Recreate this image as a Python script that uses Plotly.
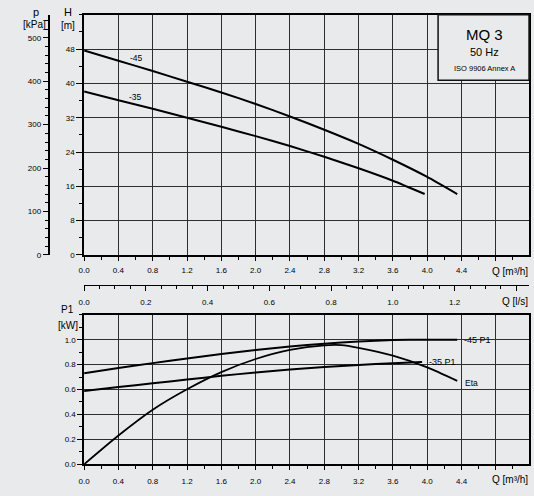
import plotly.graph_objects as go

# ---------------- data ----------------
q45 = [0.0, 0.4, 0.8, 1.2, 1.6, 2.0, 2.4, 2.8, 3.2, 3.6, 4.0, 4.35]
h45 = [47.7, 45.3, 42.9, 40.4, 37.9, 35.2, 32.3, 29.2, 25.9, 22.2, 18.2, 14.2]

q35 = [0.0, 0.4, 0.8, 1.2, 1.6, 2.0, 2.4, 2.8, 3.2, 3.6, 3.97]
h35 = [38.1, 36.1, 34.1, 32.0, 29.9, 27.7, 25.4, 22.9, 20.2, 17.3, 14.2]

qp45 = [0.0, 0.4, 0.8, 1.2, 1.6, 2.0, 2.4, 2.8, 3.2, 3.6, 4.0, 4.35]
p45 = [0.73, 0.772, 0.812, 0.85, 0.885, 0.917, 0.945, 0.968, 0.986, 0.997, 1.0, 1.0]

qp35 = [0.0, 0.4, 0.8, 1.2, 1.6, 2.0, 2.4, 2.8, 3.2, 3.6, 3.94]
p35 = [0.589, 0.62, 0.65, 0.68, 0.71, 0.737, 0.76, 0.78, 0.797, 0.811, 0.821]

qeta = [0.0, 0.4, 0.8, 1.2, 1.6, 2.0, 2.4, 2.8, 3.0, 3.2, 3.6, 4.0, 4.35]
eta = [0.0, 0.231, 0.438, 0.602, 0.74, 0.845, 0.918, 0.955, 0.957, 0.935, 0.872, 0.778, 0.67]

q_ticks = [0.0, 0.4, 0.8, 1.2, 1.6, 2.0, 2.4, 2.8, 3.2, 3.6, 4.0, 4.4, 4.8]
q_labels = ["0.0", "0.4", "0.8", "1.2", "1.6", "2.0", "2.4", "2.8", "3.2", "3.6", "4.0", "4.4", ""]
ls_ticks = [0.0, 0.2, 0.4, 0.6, 0.8, 1.0, 1.2, 1.4]
ls_labels = ["0.0", "0.2", "0.4", "0.6", "0.8", "1.0", "1.2", ""]
h_ticks = [0, 8, 16, 24, 32, 40, 48]
p_ticks = [0, 100, 200, 300, 400, 500]
p1_ticks = [0.0, 0.2, 0.4, 0.6, 0.8, 1.0]
p1_labels = ["0.0", "0.2", "0.4", "0.6", "0.8", "1.0"]

# ---------------- layout helpers ----------------
W, H = 534, 496
def px(x):
    return x / W
def py(y):
    return 1 - y / H

BG = "#e9eaec"
INK = "#000000"
GRID = "#2e2e2e"
FONT = "Liberation Sans"
tickfont = dict(family=FONT, size=8, color=INK)

fig = go.Figure()
line = dict(color="#000000", width=2, shape="spline", smoothing=0.5)
fig.add_trace(go.Scatter(x=q45, y=h45, mode="lines", line=line, xaxis="x", yaxis="y", hoverinfo="skip"))
fig.add_trace(go.Scatter(x=q35, y=h35, mode="lines", line=line, xaxis="x", yaxis="y", hoverinfo="skip"))
fig.add_trace(go.Scatter(x=qp45, y=p45, mode="lines", line=line, xaxis="x3", yaxis="y3", hoverinfo="skip"))
fig.add_trace(go.Scatter(x=qp35, y=p35, mode="lines", line=line, xaxis="x3", yaxis="y3", hoverinfo="skip"))
fig.add_trace(go.Scatter(x=qeta, y=eta, mode="lines",
                         line=dict(color="#000000", width=1.8, shape="spline", smoothing=0.6),
                         xaxis="x3", yaxis="y3", hoverinfo="skip"))

xdom = [px(79), px(529)]
qmax = (529 - 79) / 86.75
top_dom = [py(257.5), py(15)]
bot_dom = [py(469), py(318)]

common = dict(showline=True, linecolor="#000000", ticks="outside", tickcolor="#000000",
              tickfont=tickfont, zeroline=False, fixedrange=True)

fig.update_layout(
    width=W, height=H,
    margin=dict(l=0, r=0, t=0, b=0),
    paper_bgcolor=BG, plot_bgcolor=BG,
    showlegend=False,
    xaxis=dict(domain=xdom, range=[0, qmax], anchor="y", tickvals=q_ticks, ticktext=q_labels,
               showgrid=True, gridcolor=GRID, gridwidth=1, linewidth=1.5, mirror=True,
               ticklen=4, ticklabelstandoff=3,
               minor=dict(dtick=0.2, tick0=0, ticklen=3, ticks="outside", showgrid=False),
               **common),
    yaxis=dict(domain=top_dom, range=[0, 56], anchor="x", tickvals=h_ticks,
               showgrid=True, gridcolor=GRID, gridwidth=1, linewidth=1.5, mirror=True,
               ticklen=6, minor=dict(dtick=4, tick0=0, ticklen=3, ticks="outside", showgrid=False),
               **common),
    yaxis2=dict(overlaying="y", anchor="free", position=px(43), side="left",
                range=[0, 242.5 / 0.4386], tickvals=p_ticks, showgrid=False, linewidth=1.5,
                ticklen=5, minor=dict(dtick=20, tick0=0, ticklen=3, ticks="outside", showgrid=False),
                **common),
    xaxis2=dict(overlaying="x", anchor="free", position=py(288), side="bottom",
                range=[0, qmax / 3.6], tickvals=ls_ticks, ticktext=ls_labels, showgrid=False,
                linewidth=1.2, ticklen=5, ticklabelstandoff=4,
                minor=dict(dtick=0.05, tick0=0, ticklen=3, ticks="outside", showgrid=False),
                **common),
    xaxis3=dict(domain=xdom, range=[0, qmax], anchor="y3", tickvals=q_ticks, ticktext=q_labels,
                showgrid=True, gridcolor=GRID, gridwidth=1, linewidth=1.5, mirror=True,
                ticklen=4, ticklabelstandoff=4,
                minor=dict(dtick=0.2, tick0=0, ticklen=3, ticks="outside", showgrid=False),
                **common),
    yaxis3=dict(domain=bot_dom, range=[0, 1.2], anchor="x3", tickvals=p1_ticks, ticktext=p1_labels,
                showgrid=True, gridcolor=GRID, gridwidth=1, linewidth=1.5, mirror=True,
                ticklen=5, minor=dict(dtick=0.1, tick0=0, ticklen=3, ticks="outside", showgrid=False),
                **common),
)

# invisible anchor traces so the free axes are drawn
fig.add_trace(go.Scatter(x=[None], y=[None], xaxis="x", yaxis="y2", hoverinfo="skip", showlegend=False))
fig.add_trace(go.Scatter(x=[None], y=[None], xaxis="x2", yaxis="y", hoverinfo="skip", showlegend=False))

# title box
fig.add_shape(type="rect", xref="paper", yref="paper", x0=px(437), x1=px(529), y0=py(81), y1=py(15),
              fillcolor=BG, line=dict(color="#111111", width=1.5), layer="above")

def ann(text, x, y, size, xanchor="center", xref="paper", yref="paper"):
    fig.add_annotation(text=text, x=x, y=y, xref=xref, yref=yref, showarrow=False,
                       xanchor=xanchor, yanchor="middle",
                       font=dict(family=FONT, size=size, color=INK))

ann("MQ 3", px(484), py(35), 15)
ann("50 Hz", px(484), py(53), 11)
ann("ISO 9906 Annex A", px(484), py(69), 7.5)

ann("p", px(30), py(12), 11)
ann("[kPa]", px(29), py(25), 10)
ann("H", px(63), py(12), 11)
ann("[m]", px(63), py(26), 10)
ann("P1", px(62), py(313), 10)
ann("[kW]", px(63), py(329), 10)

ann("Q [m³/h]", px(530), py(274), 10, xanchor="right")
ann("Q [l/s]", px(530), py(305), 10, xanchor="right")
ann("Q [m³/h]", px(530), py(484), 10, xanchor="right")

ann("-45", 0.61, 46.0, 8.5, xref="x", yref="y")
ann("-35", 0.60, 36.9, 8.5, xref="x", yref="y")
ann("-45 P1", 4.40, 1.0, 9, xanchor="left", xref="x3", yref="y3")
ann("-35 P1", 4.00, 0.822, 9, xanchor="left", xref="x3", yref="y3")
ann("Eta", 4.42, 0.655, 8.5, xanchor="left", xref="x3", yref="y3")

fig.write_html("out.html", config={"displayModeBar": False},
               post_script="document.body.style.margin='0';document.body.style.overflow='hidden';")
